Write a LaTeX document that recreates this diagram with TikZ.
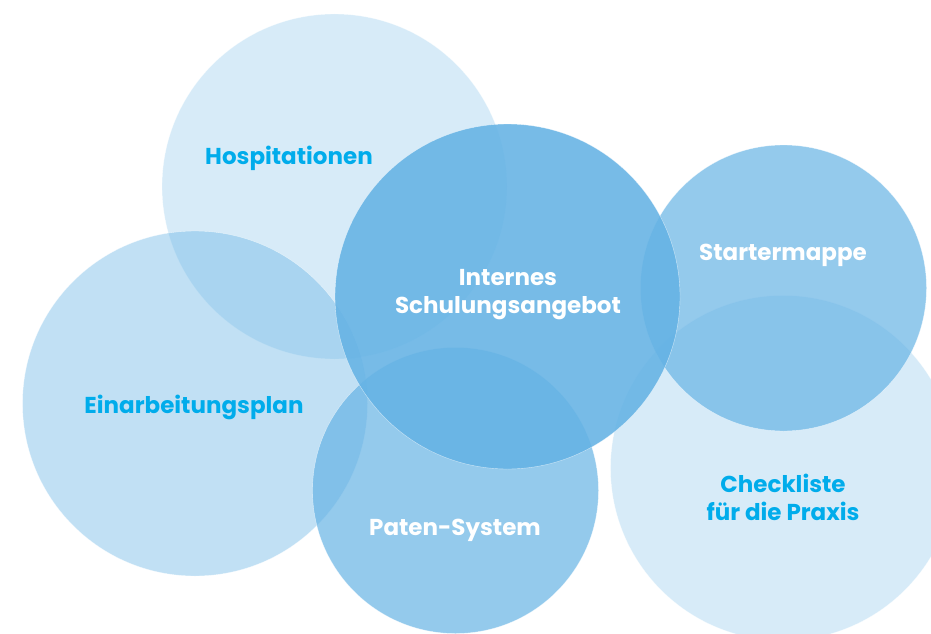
\documentclass[tikz,border=0pt]{standalone}
\usepackage{fontspec}
\setmainfont{Poppins}
\definecolor{bubbleblue}{RGB}{100,178,228}
\definecolor{labelcyan}{RGB}{0,172,235}

\begin{document}
\begin{tikzpicture}[x=1pt,y=-1pt,
    bubble/.style={circle,fill=bubbleblue,draw=white,line width=.4pt,
        draw opacity=.6,inner sep=0pt,outer sep=0pt},
    big/.style={minimum size=345pt},
    small/.style={minimum size=286pt},
    bubbletext/.style={font=\bfseries\fontsize{23}{28}\selectfont,
        align=center,text=white,anchor=base,inner sep=0pt}]
 \useasboundingbox (0,0) rectangle (931,634);
 \clip (0,0) rectangle (931,634);
 % circles, lightest first
 \node[bubble,big,fill opacity=.26] (hosp) at (334.5,186.5) {};
 \node[bubble,big,fill opacity=.26] (check) at (783,468) {};
 \node[bubble,big,fill opacity=.40] (plan) at (195,403.5) {};
 \node[bubble,small,fill opacity=.69] (mappe) at (783.5,288) {};
 \node[bubble,small,fill opacity=.69] (paten) at (455.5,490.5) {};
 \node[bubble,big,fill opacity=.88] (intern) at (507.5,296.5) {};
 % labels (base = last line)
 \node[bubbletext,text=labelcyan] (hosptext) at (289,164) {Hospitationen};
 \node[bubbletext,text=labelcyan] (plantext) at (194,413) {Einarbeitungsplan};
 \node[bubbletext] (interntext) at (508,313) {Internes\\Schulungsangebot};
 \node[bubbletext] (mappetext) at (783,260) {Startermappe};
 \node[bubbletext] (patentext) at (455,535) {Paten-System};
 \node[bubbletext,text=labelcyan] (checktext) at (783,520) {Checkliste\\für die Praxis};
\end{tikzpicture}
\end{document}
